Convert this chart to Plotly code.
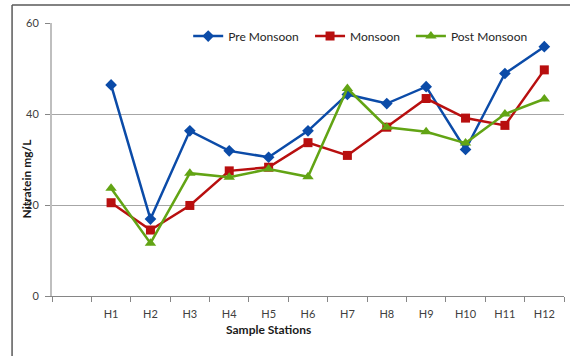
import plotly.graph_objects as go

# Sample stations (a blank slot leads the axis)
stations = ["H1", "H2", "H3", "H4", "H5", "H6", "H7", "H8", "H9", "H10", "H11", "H12"]
axis_categories = [" "] + stations

# Nitrate concentration (mg/L) per season
pre_monsoon = [46.4, 16.9, 36.3, 31.9, 30.5, 36.3, 44.3, 42.3, 46.0, 32.2, 48.9, 54.8]
monsoon = [20.5, 14.5, 19.9, 27.5, 28.3, 33.7, 30.9, 37.1, 43.4, 39.1, 37.5, 49.7]
post_monsoon = [23.7, 11.6, 27.0, 26.1, 27.9, 26.2, 45.6, 37.1, 36.1, 33.6, 40.0, 43.3]

y_ticks = [0, 20, 40, 60]

FONT = "Lato, 'Open Sans', sans-serif"

# name, values, colour, marker symbol, marker size, legend id, legend x
series = [
    ("Pre Monsoon", pre_monsoon, "#0B4BA8", "diamond", 9, "legend", 0.266),
    ("Monsoon", monsoon, "#B80F0F", "square", 9, "legend2", 0.504),
    ("Post Monsoon", post_monsoon, "#62A414", "triangle-up", 10, "legend3", 0.701),
]

fig = go.Figure()
legend_layout = {}
for name, vals, color, symbol, size, leg, lx in series:
    fig.add_trace(go.Scatter(
        x=stations, y=vals, name=name, mode="lines+markers", legend=leg,
        line=dict(color=color, width=2.5),
        marker=dict(symbol=symbol, size=size, color=color),
    ))
    legend_layout[leg] = dict(
        orientation="h", x=lx, y=0.952, xanchor="left", yanchor="middle",
        font=dict(family=FONT, size=12, color="#262626"),
        bgcolor="rgba(0,0,0,0)", itemwidth=30,
    )

fig.update_layout(
    width=570, height=356,
    margin=dict(l=52, r=6, t=23, b=60),
    paper_bgcolor="white", plot_bgcolor="white",
    font=dict(family=FONT, size=11, color="#404040"),
    showlegend=True,
    **legend_layout,
    xaxis=dict(
        type="category", categoryorder="array", categoryarray=axis_categories,
        range=[-0.5, 12.5], tickson="boundaries", ticks="outside", ticklen=5,
        tickcolor="#868686", showline=True, linecolor="#868686", linewidth=1,
        showgrid=False, zeroline=False, ticklabelstandoff=8,
        tickfont=dict(family=FONT, size=11, color="#404040"),
    ),
    yaxis=dict(
        range=[0, 60], tickvals=y_ticks, ticks="outside", ticklen=5,
        tickcolor="#868686", showline=True, linecolor="#BFBFBF", linewidth=2,
        showgrid=True, gridcolor="#A6A6A6", gridwidth=1, zeroline=False,
        ticklabelstandoff=4,
        tickfont=dict(family=FONT, size=11, color="#404040"),
    ),
    # outer chart frame: top and left edges
    shapes=[
        dict(type="line", xref="paper", yref="paper",
             x0=-0.078, x1=1.02, y0=1.066, y1=1.066,
             line=dict(color="#595959", width=1.5), layer="below"),
        dict(type="line", xref="paper", yref="paper",
             x0=-0.078, x1=-0.078, y0=-0.25, y1=1.066,
             line=dict(color="#595959", width=1.5), layer="below"),
    ],
    annotations=[
        dict(text="<b>Nitratein mg/L</b>", textangle=-90, xref="paper", yref="paper",
             x=-0.05, y=0.432, xanchor="center", yanchor="middle", showarrow=False,
             font=dict(family=FONT, size=12, color="#1a1a1a")),
        dict(text="<b>Sample Stations</b>", xref="paper", yref="paper",
             x=0.422, y=-0.1245, xanchor="center", yanchor="middle", showarrow=False,
             font=dict(family=FONT, size=12, color="#1a1a1a")),
    ],
)

fig.write_html("out.html")
